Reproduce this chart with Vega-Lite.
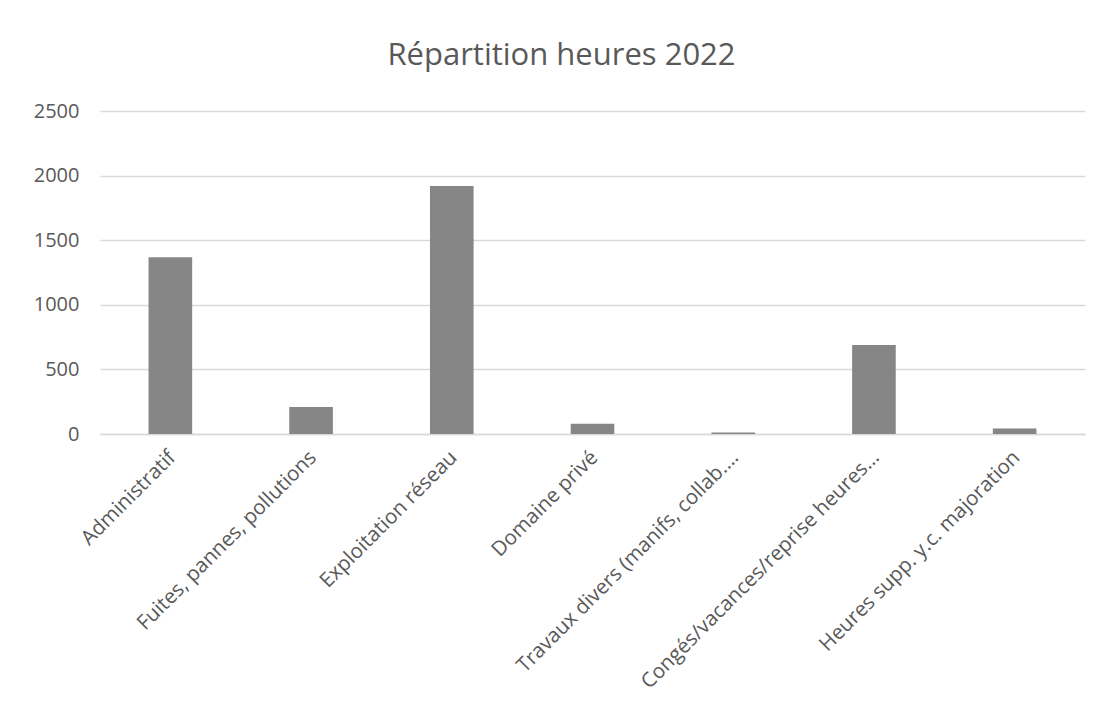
{
  "$schema": "https://vega.github.io/schema/vega-lite/v6.json",
  "autosize": "none",
  "width": 985,
  "height": 323,
  "padding": {"left": 100, "top": 111, "right": 14, "bottom": 272},
  "background": "white",
  "title": {
    "text": "Répartition heures 2022",
    "font": "Open Sans",
    "fontSize": 31,
    "fontWeight": "normal",
    "color": "#595959",
    "anchor": "middle",
    "dx": -31,
    "offset": 29
  },
  "data": {
    "values": [
      {"categorie": "Administratif", "heures": 1368},
      {"categorie": "Fuites, pannes, pollutions", "heures": 209},
      {"categorie": "Exploitation réseau", "heures": 1919},
      {"categorie": "Domaine privé", "heures": 80},
      {"categorie": "Travaux divers (manifs, collab.…", "heures": 12},
      {"categorie": "Congés/vacances/reprise heures…", "heures": 688},
      {"categorie": "Heures supp. y.c. majoration", "heures": 43}
    ]
  },
  "mark": {"type": "bar", "color": "#868686"},
  "encoding": {
    "x": {
      "field": "categorie",
      "type": "nominal",
      "sort": null,
      "scale": {"paddingInner": 0.69, "paddingOuter": 0.345},
      "axis": {
        "title": null,
        "labelAngle": -45,
        "labelFont": "Open Sans",
        "labelFontSize": 20.5,
        "labelColor": "#595959",
        "labelPadding": 13,
        "labelOffset": -5,
        "labelLimit": 400,
        "ticks": false,
        "domainColor": "#d9d9d9",
        "domainWidth": 1.5,
        "grid": false
      }
    },
    "y": {
      "field": "heures",
      "type": "quantitative",
      "scale": {"domain": [0, 2500]},
      "axis": {
        "title": null,
        "format": "d",
        "values": [0, 500, 1000, 1500, 2000, 2500],
        "labelFont": "Open Sans",
        "labelFontSize": 20,
        "labelColor": "#595959",
        "labelPadding": 21,
        "ticks": false,
        "domain": false,
        "gridColor": "#d9d9d9",
        "gridWidth": 1.5
      }
    }
  },
  "config": {"view": {"stroke": null}}
}
